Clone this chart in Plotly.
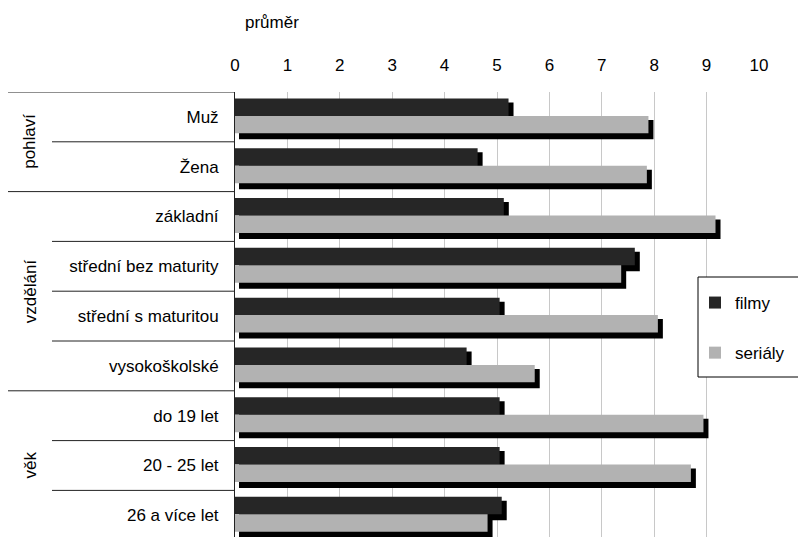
import plotly.graph_objects as go

# Average scores by respondent group
categories = ["Muž", "Žena", "základní", "střední bez maturity", "střední s maturitou",
              "vysokoškolské", "do 19 let", "20 - 25 let", "26 a více let"]
groups = ["pohlaví", "vzdělání", "věk"]
group_sizes = [2, 4, 3]
filmy = [5.22, 4.63, 5.13, 7.63, 5.05, 4.42, 5.05, 5.05, 5.09]
serialy = [7.89, 7.86, 9.17, 7.37, 8.07, 5.72, 8.94, 8.70, 4.82]
x_ticks = list(range(0, 11))

# Page geometry
W, H = 798, 537
ML, MR, MT, MB = 235, 39, 92, 0
PLOT_W = W - ML - MR
PLOT_H = H - MT - MB
ROW_PX = 49.8
X_MAX = 10

FONT = "Liberation Sans, Arial, sans-serif"
FS = 17
DARK = "#262626"
GREY = "#b2b2b2"

ypos = list(range(len(categories)))
px_x = X_MAX / PLOT_W          # data units per pixel along x
px_y = 1.0 / ROW_PX            # data units per pixel along y
sh_dx = 5 * px_x

BAR_W = 0.35
OFF_F = -0.37
OFF_S = OFF_F + BAR_W

fig = go.Figure()

# drop shadows underneath the bars
for vals, off in ((filmy, OFF_F), (serialy, OFF_S)):
    fig.add_trace(go.Bar(
        y=ypos, x=[v + sh_dx - 4 * px_x for v in vals], base=4 * px_x,
        orientation="h", width=BAR_W + 2 * px_y, offset=off + 4 * px_y,
        marker=dict(color="#000000", line=dict(width=0)),
        showlegend=False, hoverinfo="skip"))

fig.add_trace(go.Bar(
    y=ypos, x=filmy, orientation="h", name="filmy", width=BAR_W, offset=OFF_F,
    marker=dict(color=DARK, line=dict(width=0)), legendgroup="f"))
fig.add_trace(go.Bar(
    y=ypos, x=serialy, orientation="h", name="seriály", width=BAR_W, offset=OFF_S,
    marker=dict(color=GREY, line=dict(width=0)), legendgroup="s"))

y_top = -0.5
y_bot = y_top + PLOT_H / ROW_PX

def px_to_paper_x(px):
    return (px - ML) / PLOT_W

def px_to_paper_y(py):
    return 1 - (py - MT) / PLOT_H

shapes = []
LINE = dict(color="#222222", width=1)
# top border of the category box
shapes.append(dict(type="line", xref="paper", yref="y",
                   x0=px_to_paper_x(8), x1=0, y0=y_top, y1=y_top, line=LINE))
# separators between rows and between groups
annotations = []
start = 0
for g, n in zip(groups, group_sizes):
    end = start + n
    for k in range(start + 1, end):
        shapes.append(dict(type="line", xref="paper", yref="y",
                           x0=px_to_paper_x(52), x1=0, y0=k - 0.5, y1=k - 0.5, line=LINE))
    shapes.append(dict(type="line", xref="paper", yref="y",
                       x0=px_to_paper_x(8), x1=0, y0=end - 0.5, y1=end - 0.5, line=LINE))
    annotations.append(dict(text=g, xref="paper", yref="y", x=px_to_paper_x(30),
                            y=(start + end - 1) / 2, textangle=-90, showarrow=False,
                            xanchor="center", yanchor="middle",
                            font=dict(family=FONT, size=FS, color="#000")))
    start = end

# legend frame, running off the right edge of the page
shapes.append(dict(type="rect", xref="paper", yref="paper", layer="above",
                   x0=px_to_paper_x(698), x1=px_to_paper_x(W + 20),
                   y0=px_to_paper_y(377), y1=px_to_paper_y(277),
                   line=dict(color="#000", width=1), fillcolor="white"))

annotations.append(dict(text="průměr", xref="paper", yref="paper",
                        x=px_to_paper_x(272), y=1 + (MT - 22) / PLOT_H,
                        xanchor="center", yanchor="middle", showarrow=False,
                        font=dict(family=FONT, size=FS, color="#000")))

fig.update_layout(
    width=W, height=H,
    margin=dict(l=ML, r=MR, t=MT, b=MB, pad=0),
    paper_bgcolor="white", plot_bgcolor="white",
    barmode="overlay",
    font=dict(family=FONT, size=FS, color="#000"),
    xaxis=dict(range=[0, X_MAX], side="top", tickvals=x_ticks,
               showgrid=True, gridcolor="#c8c8c8", gridwidth=1,
               zeroline=False, showline=False, ticks="",
               ticklabelstandoff=17, tickfont=dict(size=FS)),
    yaxis=dict(range=[y_bot, y_top], tickvals=ypos, ticktext=categories,
               showgrid=False, zeroline=False, showline=True,
               linecolor="#222222", linewidth=1, ticks="",
               ticklabelstandoff=12, tickfont=dict(size=FS)),
    legend=dict(x=px_to_paper_x(695), y=px_to_paper_y(285),
                xanchor="left", yanchor="top",
                borderwidth=0, bgcolor="rgba(0,0,0,0)",
                traceorder="grouped", tracegroupgap=25,
                font=dict(family=FONT, size=FS), itemwidth=30),
    shapes=shapes, annotations=annotations,
    showlegend=True,
)

fig.write_html("out.html")
